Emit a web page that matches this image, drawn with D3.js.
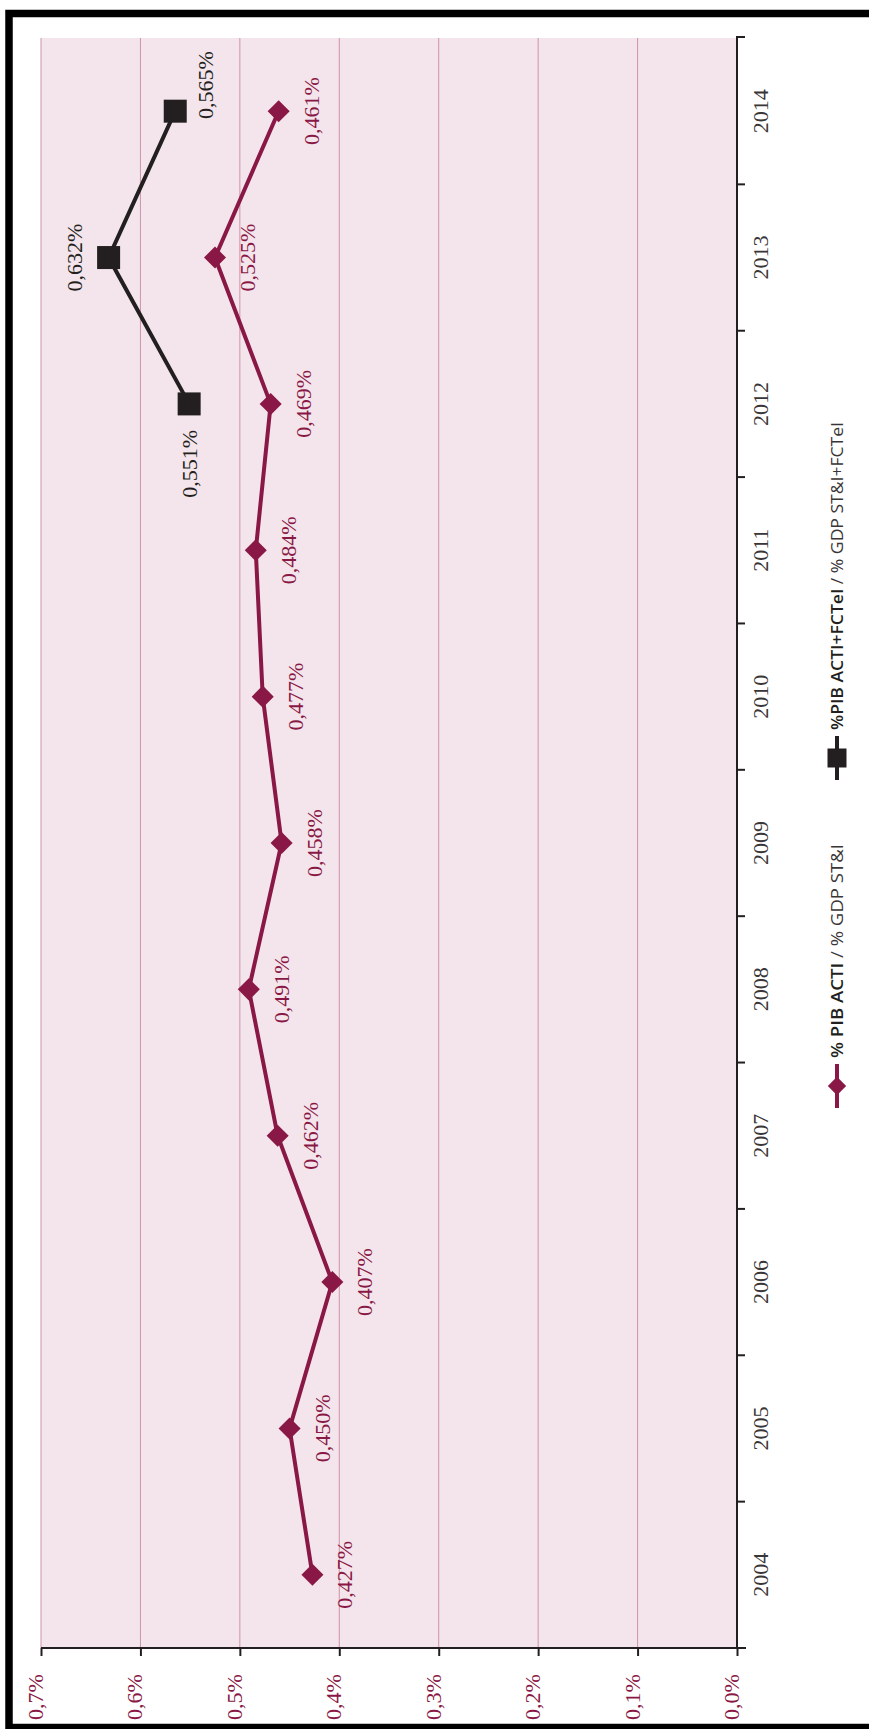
<!DOCTYPE html>
<html>
<head>
<meta charset="utf-8">
<script src="https://cdn.jsdelivr.net/npm/d3@7"></script>
<style>
html,body{margin:0;padding:0;background:#fff;}
svg{display:block;}
</style>
</head>
<body>
<svg id="chart" width="869" height="1729"></svg>
<script>
// ---- data ----
const years = [2004, 2005, 2006, 2007, 2008, 2009, 2010, 2011, 2012, 2013, 2014];
const pibActi = [0.427, 0.450, 0.407, 0.462, 0.491, 0.458, 0.477, 0.484, 0.469, 0.525, 0.461];
const fctiYears = [2012, 2013, 2014];
const pibActiFctei = [0.551, 0.632, 0.565];
const valueTicks = [0, 0.1, 0.2, 0.3, 0.4, 0.5, 0.6, 0.7];
const legendLabels = [
  ["% PIB ACTI", " / % GDP ST&I"],
  ["%PIB ACTI+FCTeI", " / % GDP ST&I+FCTeI"]
];
const fctiLabelPlacement = ["below", "left", "rightUp"];

(function () {
// ---- styling ----
const CRIMSON = "#8a1846";
const DARK = "#231f20";
const PINK = "#f3e5eb";
const GRID = "#cf93a8";
const SERIF = "'Liberation Serif','DejaVu Serif',serif";
const SANS = "'Open Sans','Noto Sans',sans-serif";

const svg = d3.select("#chart");
const pL = 41, pR = 737, pT = 38, pB = 1648;

// value axis runs horizontally (0 at right), years run vertically (2004 at bottom)
const x = d3.scaleLinear().domain([0, 0.7]).range([pR, pL]);
const yBand = d3.scaleBand().domain(years.slice().reverse()).range([pT, pB]);
const y = d => yBand(d) + yBand.bandwidth() / 2;

const fmt = v => d3.format(".3f")(v).replace(".", ",") + "%";
const fmtTick = v => d3.format(".1f")(v).replace(".", ",") + "%";

// frame
svg.append("rect").attr("x", 9).attr("y", 13.5).attr("width", 900).attr("height", 1714)
  .attr("fill", "none").attr("stroke", "#000").attr("stroke-width", 7.5);

// plot background
svg.append("rect").attr("x", pL).attr("y", pT).attr("width", pR - pL).attr("height", pB - pT)
  .attr("fill", PINK);

// grid lines
svg.append("g").selectAll("line").data(valueTicks.filter(v => v > 0)).join("line")
  .attr("x1", d => x(d)).attr("x2", d => x(d)).attr("y1", pT).attr("y2", pB)
  .attr("stroke", GRID).attr("stroke-width", 1);

// bottom value axis
const xAxis = d3.axisBottom(x).tickValues(valueTicks).tickSize(8).tickFormat("").tickSizeOuter(0);
const gx = svg.append("g").attr("transform", `translate(0,${pB})`).call(xAxis);
gx.select(".domain").attr("d", `M${pL},0H${pR + 9}`).attr("stroke", DARK).attr("stroke-width", 2);
gx.selectAll(".tick line").attr("stroke", DARK).attr("stroke-width", 2);

svg.append("g").selectAll("text").data(valueTicks).join("text")
  .attr("transform", d => `translate(${x(d) + 2},${pB + 49}) rotate(-90)`)
  .attr("text-anchor", "middle")
  .attr("font-family", SERIF).attr("font-size", 22).attr("fill", CRIMSON)
  .text(fmtTick);

// right year axis (ticks at band boundaries)
const boundaries = years.map(yr => yBand(yr)).concat([pB]);
svg.append("line").attr("x1", pR).attr("x2", pR).attr("y1", pT - 2).attr("y2", pB)
  .attr("stroke", DARK).attr("stroke-width", 2);
svg.append("g").selectAll("line").data(boundaries).join("line")
  .attr("x1", pR).attr("x2", pR + 8)
  .attr("y1", d => d === pT ? pT - 1 : d).attr("y2", d => d === pT ? pT - 1 : d)
  .attr("stroke", DARK).attr("stroke-width", 2);

svg.append("g").selectAll("text").data(years).join("text")
  .attr("transform", d => `translate(768,${y(d)}) rotate(-90)`)
  .attr("text-anchor", "middle")
  .attr("font-family", SERIF).attr("font-size", 22).attr("fill", "#3a3536")
  .text(d => d);

// series 1: % PIB ACTI
const s1 = years.map((yr, i) => ({yr, v: pibActi[i]}));
const line = d3.line().x(d => x(d.v)).y(d => y(d.yr));
svg.append("path").datum(s1).attr("d", line).attr("fill", "none")
  .attr("stroke", CRIMSON).attr("stroke-width", 4).attr("stroke-linejoin", "miter");

const diamond = d3.symbol().type(d3.symbolSquare).size(15.6 * 15.6);
svg.append("g").selectAll("path").data(s1).join("path")
  .attr("d", diamond)
  .attr("transform", d => `translate(${x(d.v)},${y(d.yr)}) rotate(45)`)
  .attr("fill", CRIMSON);

svg.append("g").selectAll("text").data(s1).join("text")
  .attr("transform", d => `translate(${x(d.v) + 40},${y(d.yr)}) rotate(-90)`)
  .attr("text-anchor", "middle")
  .attr("font-family", SERIF).attr("font-size", 22).attr("fill", CRIMSON)
  .text(d => fmt(d.v));

// series 2: % PIB ACTI+FCTeI
const s2 = fctiYears.map((yr, i) => ({yr, v: pibActiFctei[i], pos: fctiLabelPlacement[i]}));
svg.append("path").datum(s2).attr("d", line).attr("fill", "none")
  .attr("stroke", DARK).attr("stroke-width", 4);

const square = d3.symbol().type(d3.symbolSquare).size(23 * 23);
svg.append("g").selectAll("path").data(s2).join("path")
  .attr("d", square)
  .attr("transform", d => `translate(${x(d.v)},${y(d.yr)})`)
  .attr("fill", DARK);

const off = {below: [8, 60], left: [-27, 0], rightUp: [38, -26]};
svg.append("g").selectAll("text").data(s2).join("text")
  .attr("transform", d => `translate(${x(d.v) + off[d.pos][0]},${y(d.yr) + off[d.pos][1]}) rotate(-90)`)
  .attr("text-anchor", "middle")
  .attr("font-family", SERIF).attr("font-size", 22).attr("fill", DARK)
  .text(d => fmt(d.v));

// legend
const lgX = 837;
const lg = [
  {cy: 1086, color: CRIMSON, type: "diamond", text: legendLabels[0], len: 214},
  {cy: 758, color: DARK, type: "square", text: legendLabels[1], len: 308}
];
lg.forEach(item => {
  const g = svg.append("g");
  g.append("line").attr("x1", lgX).attr("x2", lgX).attr("y1", item.cy - 22).attr("y2", item.cy + 22)
    .attr("stroke", item.color).attr("stroke-width", 4);
  if (item.type === "diamond") {
    g.append("path").attr("d", d3.symbol().type(d3.symbolSquare).size(13 * 13)())
      .attr("transform", `translate(${lgX},${item.cy}) rotate(45)`).attr("fill", item.color);
  } else {
    g.append("path").attr("d", d3.symbol().type(d3.symbolSquare).size(19 * 19)())
      .attr("transform", `translate(${lgX},${item.cy})`).attr("fill", item.color);
  }
  const t = g.append("text")
    .attr("transform", `translate(${lgX + 6},${item.cy - 28}) rotate(-90)`)
    .attr("text-anchor", "start")
    .attr("font-family", SANS).attr("font-size", 17).attr("fill", DARK)
    .attr("textLength", item.len).attr("lengthAdjust", "spacingAndGlyphs");
  t.append("tspan").attr("font-weight", 600).text(item.text[0]);
  t.append("tspan").attr("font-weight", 400).attr("fill", "#3a3536").text(item.text[1]);
});
})();
</script>
</body>
</html>
